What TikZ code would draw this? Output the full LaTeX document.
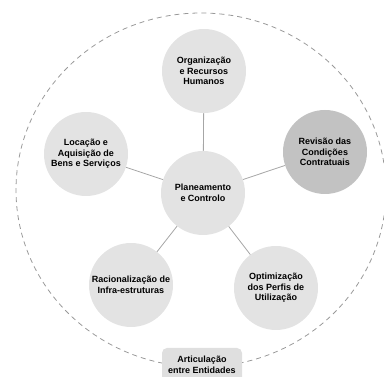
\documentclass[tikz,border=0pt]{standalone}
\usepackage{fontspec}
\setmainfont{Liberation Sans}
\usepackage{tikz}
\usetikzlibrary{positioning,shapes.geometric}

\begin{document}
\begin{tikzpicture}[
    x=1pt, y=1pt,
    area/.style={circle, fill=gray!22, minimum size=84pt, inner sep=0pt, align=center, font=\fontsize{9}{10.5}\selectfont\bfseries},
    areadark/.style={area, fill=gray!48},
    entity/.style={rectangle, rounded corners=5pt, fill=gray!25, minimum width=80pt, minimum height=34pt, align=center, font=\fontsize{9}{10.5}\selectfont\bfseries},
    link/.style={gray!70, line width=0.8pt},
    border/.style={gray!80, line width=0.8pt, dash pattern=on 5pt off 4pt}
]
    \useasboundingbox (0,0) rectangle (384,377);

    % Outer dashed boundary
    \draw[border] (201,187) ellipse [x radius=185, y radius=177];

    % Central area
    \node[area] (plan) at (203,184) {Planeamento\\e Controlo};

    % Surrounding areas
    \node[area] (org) at (204,306) {Organização\\e Recursos\\Humanos};
    \node[areadark] (rev) at (325,225) {Revisão das\\Condições\\Contratuais};
    \node[area] (loc) at (86,223) {Locação e\\Aquisição de\\Bens e Serviços};
    \node[area] (rac) at (131,92) {Racionalização de\\Infra-estruturas};
    \node[area] (opt) at (276,89) {Optimização\\dos Perfis de\\Utilização};

    % Entities
    \node[entity] (art) at (202,12) {Articulação\\entre Entidades};

    % Links
    \draw[link] (plan) -- (org);
    \draw[link] (plan) -- (rev);
    \draw[link] (plan) -- (loc);
    \draw[link] (plan) -- (rac);
    \draw[link] (plan) -- (opt);
\end{tikzpicture}
\end{document}
